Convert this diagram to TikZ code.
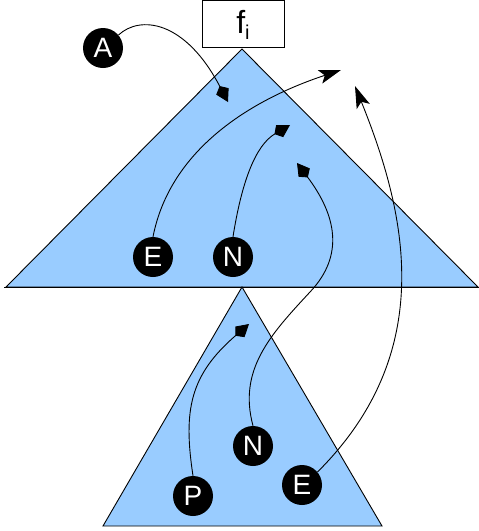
\documentclass[tikz,border=0pt]{standalone}
\usepackage{fontspec}
\setmainfont{Liberation Sans}
\usetikzlibrary{arrows.meta}
\definecolor{triblue}{HTML}{99CCFF}
\begin{document}
\begin{tikzpicture}[x=1pt,y=-1pt,
  tri/.style={draw=black,fill=triblue,line width=0.9pt,line join=miter},
  ball/.style={circle,fill=black,minimum size=40pt,inner sep=0pt,text=white,font=\fontsize{28}{30}\selectfont},
  conn/.style={draw=black,line width=0.9pt},
  kitetip/.style={-{Kite[length=18pt,width=14pt,inset=6pt]}},
  arrtip/.style={-{Stealth[length=22pt,width=14pt,inset=5pt]}}]
\useasboundingbox (0,0) rectangle (479,531);
% triangles
\path[tri] (6,287) -- (242,49) -- (478,287) -- cycle;
\draw[line width=0.9pt] (4,287) -- (479,287);
\path[tri] (103,526) -- (242,287) -- (382,526) -- cycle;
% f_i box
\node[draw=black,line width=0.9pt,minimum width=82pt,minimum height=47pt,inner sep=0pt,anchor=south] (fbox) at (243,48) {};
\node[font=\fontsize{32}{34}\selectfont] (flabel) at (243,25) {f\raisebox{-0.35ex}{\fontsize{20}{22}\selectfont i}};
% balls
\node[ball] (A) at (103,48) {A};
\node[ball] (E1) at (153,257) {E};
\node[ball] (N1) at (233,257) {N};
\node[ball] (N2) at (253,446) {N};
\node[ball] (E2) at (302,485) {E};
\node[ball] (P) at (193,496) {P};
% target coordinates
\coordinate (tA) at (228,102);
\coordinate (tE1) at (341,70);
\coordinate (tN1) at (290,125);
\coordinate (tN2) at (297,163);
\coordinate (tP) at (249,324);
\coordinate (tE2) at (355,86);
% connectors
\draw[conn,kitetip] (A.40) .. controls (140,15) and (185,20) .. (tA);
\draw[conn,arrtip] (E1.north) .. controls (170,150) and (250,100) .. (tE1);
\draw[conn,kitetip] (N1.north) .. controls (242,180) and (256,145) .. (tN1);
\draw[conn,kitetip] (N2.north) .. controls (238,370) and (270,335) .. (310,292) .. controls (345,255) and (336,215) .. (tN2);
\draw[conn,kitetip] (P.north) .. controls (183,410) and (190,375) .. (tP);
\draw[conn,arrtip] (E2.40) .. controls (440,350) and (405,210) .. (tE2);
\end{tikzpicture}
\end{document}
